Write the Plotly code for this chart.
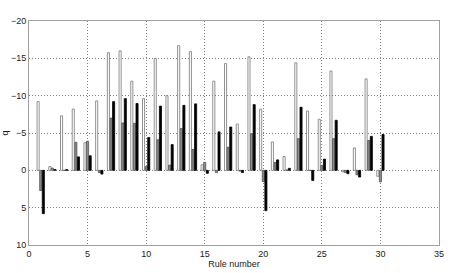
import plotly.graph_objects as go

rules = list(range(1, 31))
series_a = [-9.2, -0.5, -7.3, -8.2, -3.7, -9.3, -15.75, -16.0, -11.95, -9.6,
            -15.0, -10.0, -16.7, -15.9, -0.75, -11.95, -14.3, -6.2, -15.2, -8.2,
            -3.8, -1.85, -14.4, -7.95, -6.85, -13.3, 0.2, -3.0, -12.25, 0.8]
series_b = [2.7, -0.3, 0.0, -3.75, -3.9, 0.3, -7.0, -6.35, -6.3, -0.5,
            -4.1, -0.7, -5.6, -2.8, -1.07, 0.3, -3.1, 0.1, -4.9, 1.5,
            -1.07, -0.05, -4.25, 0.0, -0.67, -4.25, 0.3, 0.6, -4.0, 1.55]
series_c = [5.8, -0.1, -0.1, -1.8, -1.95, 0.5, -9.2, -9.6, -8.95, -4.4,
            -8.6, -3.45, -8.7, -8.9, 0.4, -5.15, -5.8, 0.3, -8.8, 5.4,
            -1.4, -0.27, -8.45, 1.35, -1.5, -6.7, 0.45, 0.9, -4.55, -4.8]

x_ticks = [0, 5, 10, 15, 20, 25, 30, 35]
y_ticks = [-20, -15, -10, -5, 0, 5, 10]

fig = go.Figure()
for vals, fill, edge in [(series_a, "#ffffff", "#777777"),
                         (series_b, "#8c8c8c", "#555555"),
                         (series_c, "#000000", "#000000")]:
    fig.add_trace(go.Bar(x=rules, y=vals, marker=dict(color=fill, line=dict(color=edge, width=0.8)),
                         showlegend=False))

font = dict(family="Liberation Sans, Arial, sans-serif", size=9, color="#222222")
grid = dict(showgrid=True, gridcolor="#808080", griddash="1px,2px", gridwidth=1,
            zeroline=False, showline=True, mirror=True, linecolor="#a0a0a0",
            linewidth=1, ticks="", automargin=False, layer="below traces")
fig.update_layout(
    width=466, height=273,
    margin=dict(l=29, r=27, t=21, b=28),
    paper_bgcolor="white", plot_bgcolor="white",
    barmode="group", bargap=0.333, bargroupgap=0.2,
    font=font,
    xaxis=dict(range=[0, 35], tickvals=x_ticks,
               title=dict(text="Rule number", font=font, standoff=0), **grid),
    yaxis=dict(range=[10, -20], tickvals=y_ticks,
               title=dict(text="q", font=font, standoff=2), **grid),
)
fig.write_html("out.html", config={"displayModeBar": False},
               post_script="document.body.style.margin='0';document.body.style.overflow='hidden';")
